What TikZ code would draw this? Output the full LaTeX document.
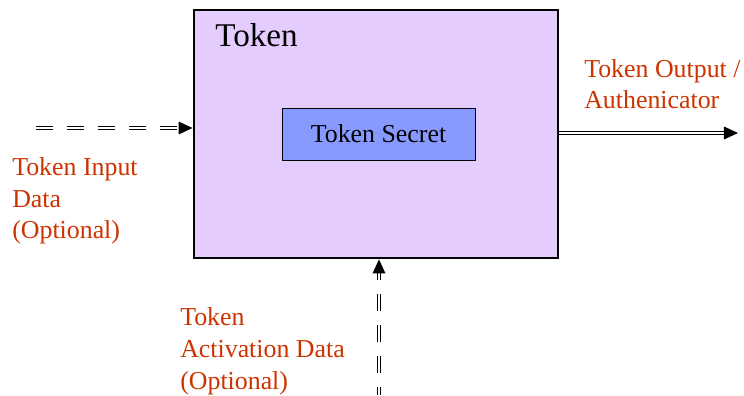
\documentclass[tikz,border=0pt]{standalone}
\usepackage{fontspec}
\setmainfont{Liberation Serif}
\usetikzlibrary{arrows.meta}

\definecolor{lilac}{RGB}{229,204,255}
\definecolor{secretblue}{RGB}{136,153,255}
\definecolor{labelred}{RGB}{204,51,0}

\tikzset{
  label text/.style={text=labelred, align=left, inner sep=0pt, font=\fontsize{18.4}{22.7}\selectfont},
  flow/.style={double, line width=0.9pt, double distance=1.2pt, -{Triangle[length=10pt,width=9pt]}},
  optional flow/.style={flow, dash pattern=on 12pt off 10pt}
}

\begin{document}
\begin{tikzpicture}
\useasboundingbox (0,0) rectangle (18.6,9.875);

% token housing and its secret
\node[draw, line width=2pt, fill=lilac, minimum width=9.1cm, minimum height=6.2cm, inner sep=0pt] (token) at (9.4,6.525) {};
\node[anchor=base west, inner sep=0pt, font=\fontsize{23.6}{28}\selectfont] (title) at (5.375,8.7) {Token};
\node[draw, line width=0.5pt, fill=secretblue, minimum width=4.825cm, minimum height=1.3cm, font=\fontsize{18.4}{22}\selectfont] (secret) at (9.4625,6.525) {Token Secret};

% inputs and output
\coordinate (in) at (0.9,6.675);
\coordinate (out) at (18.45,6.55);
\coordinate (act) at (9.475,0);
\draw[optional flow] (in) -- (token.west |- in);
\draw[flow] (token.east |- out) -- (out);
\draw[optional flow, dash phase=6pt] (act) -- (token.south -| act);

% labels (base = last line)
\node[label text, anchor=base west] (inlabel) at (0.3,3.9) {Token Input\\Data\\(Optional)};
\node[label text, anchor=base west] (outlabel) at (14.6,7.15) {Token Output /\\Authenicator};
\node[label text, anchor=base west] (actlabel) at (4.5,0.15) {Token\\Activation Data\\(Optional)};

\end{tikzpicture}
\end{document}
